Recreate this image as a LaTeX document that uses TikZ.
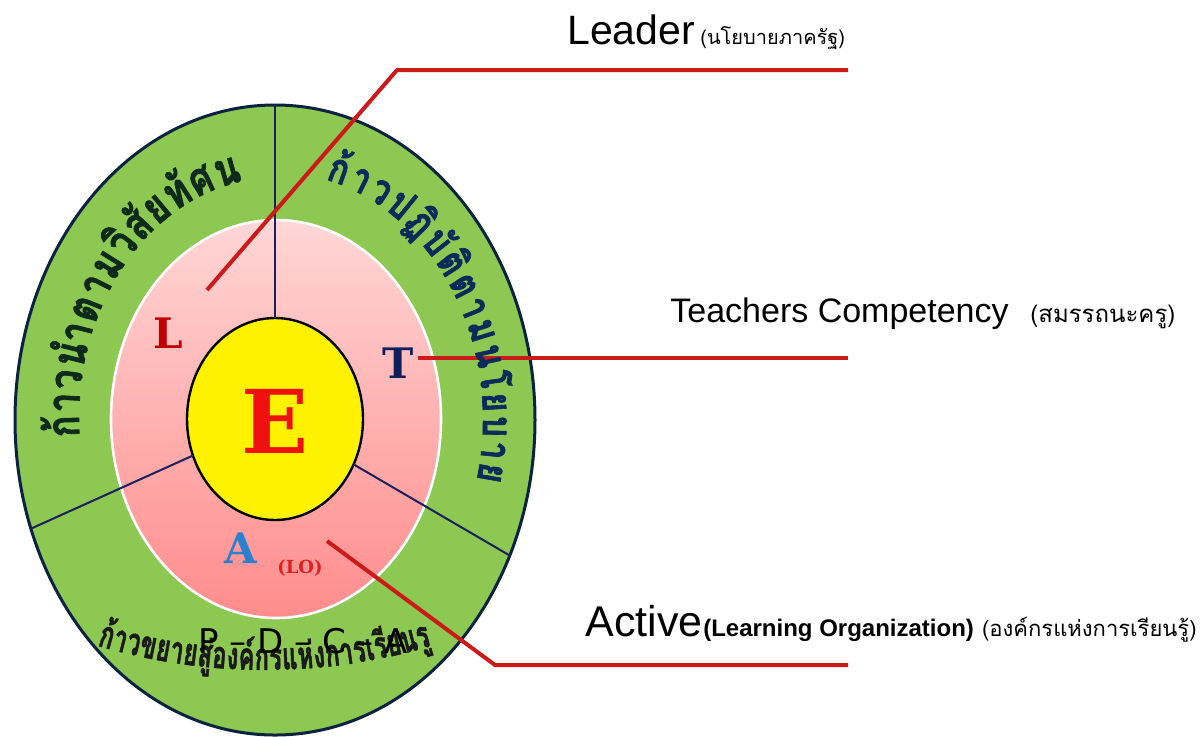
\documentclass[tikz,border=0pt]{standalone}
\usepackage{fontspec}
\setmainfont{Liberation Sans}
\newfontfamily\thaifont[Script=Thai]{Loma}
\newfontfamily\thairing[Script=Thai,FakeStretch=0.78,FakeBold=1.5]{Loma}
\newfontfamily\thaicond[Script=Thai,FakeStretch=0.62,FakeBold=1.2]{Loma}
\newfontfamily\dserif{DejaVu Serif}
\newfontfamily\dsans{DejaVu Sans}
\usetikzlibrary{shapes.geometric,decorations.text}

\definecolor{ringgreen}{HTML}{8CC852}
\definecolor{ringedge}{HTML}{0B2340}
\definecolor{divider}{HTML}{1B1F5C}
\definecolor{pinktop}{HTML}{FFD6D6}
\definecolor{pinkbot}{HTML}{FF8C8C}
\definecolor{conred}{HTML}{CC1A1A}
\definecolor{lred}{HTML}{C00000}
\definecolor{tnavy}{HTML}{0F1F5C}
\definecolor{ablue}{HTML}{2A7FD0}
\definecolor{ered}{HTML}{F01010}
\definecolor{lotext}{HTML}{E02020}
\definecolor{lefttext}{HTML}{0E2A1A}
\definecolor{righttext}{HTML}{0C2A5A}
\definecolor{bottext}{HTML}{1A1A1A}

\newcommand\leftringfont{\thairing\bfseries\fontsize{23}{23}\selectfont}
\newcommand\rightringfont{\thairing\bfseries\fontsize{21}{21}\selectfont}
\newcommand\botfont{\thaicond\bfseries\fontsize{19}{19}\selectfont}

\begin{document}
\begin{tikzpicture}[x=0.5pt,y=0.5pt,
  ring/.style={ellipse, inner sep=0pt, outer sep=0pt},
  divline/.style={draw=divider, line width=1pt},
  conn/.style={draw=conred, line width=2pt, line join=round},
  bigletter/.style={font=\dserif\bfseries\fontsize{21}{21}\selectfont, inner sep=0pt},
  label/.style={anchor=base west, inner sep=0pt},
  ringtext/.style={decorate, decoration={text along path, text align={fit to path}, text color=#1}}]
\useasboundingbox (0,0) rectangle (1200,-736);
\fill[white] (0,0) rectangle (1200,-736);

% rings
\node[ring, fill=ringgreen, draw=ringedge, line width=1.5pt, minimum width=260pt, minimum height=315pt] (outer) at (275,-420) {};
\node[ring, top color=pinktop, bottom color=pinkbot, draw=white, line width=1.3pt, minimum width=165pt, minimum height=199pt] (pink) at (276,-419) {};
\node[ring, fill=yellow, draw=black, line width=1.2pt, minimum width=88pt, minimum height=101pt] (core) at (275,-419) {};

% dividers
\draw[divline] (core.90) -- (outer.90);
\draw[divline] (core.204.5) -- (outer.204.5);
\draw[divline] (core.330.5) -- (outer.330.5);

% red connectors
\coordinate (lfoot) at (207,-290);
\coordinate (lknee) at (397,-70);
\coordinate (lend) at (848,-70);
\coordinate (tfoot) at (418,-358);
\coordinate (tend) at (848,-358);
\coordinate (afoot) at (327,-541);
\coordinate (aknee) at (495,-665);
\coordinate (aend) at (848,-665);
\draw[conn] (lfoot) -- (lknee) -- (lend);
\draw[conn] (tfoot) -- (tend);
\draw[conn] (afoot) -- (aknee) -- (aend);

% ring texts
\path[ringtext=lefttext, decoration={text={|\leftringfont|{ก้}{า}{ว}{นำ}{ต}{า}{ม}{วิ}{สั}{ย}{ทั}{ศ}{น์}}}]
  (275,-420) ++(184:196 and 242) arc[start angle=184, end angle=99, x radius=196, y radius=242];
\path[ringtext=righttext, decoration={text={|\rightringfont|{ก้}{า}{ว}{ป}{ฏิ}{บั}{ติ}{ต}{า}{ม}{น}{โ}{ย}{บ}{า}{ย}}}]
  (275,-420) ++(76:208 and 248) arc[start angle=76, end angle=-14, x radius=208, y radius=248];
\path[ringtext=bottext, decoration={text={|\botfont|{ก้}{า}{ว}{ข}{ย}{า}{ย}{สู่}{อ}{ง}{ค์}{ก}{ร}{แ}{ห่}{ง}{ก}{า}{ร}{เ}{รี}{ย}{น}{รู้}}}]
  (265,-79) ++(253.5:591) arc[start angle=253.5, end angle=286.5, radius=591];

% letters
\node[font=\dserif\bfseries\fontsize{44}{44}\selectfont, text=ered, inner sep=0pt] (E) at (275,-421) {E};
\node[bigletter, text=lred] (L) at (168,-333) {L};
\node[bigletter, text=tnavy] (T) at (398,-363) {T};
\node[bigletter, text=ablue] (A) at (241,-548) {A};
\node[font=\dserif\bfseries\fontsize{9}{9}\selectfont, text=lotext, inner sep=0pt] (LO) at (300,-568) {(LO)};
\node[anchor=base, font=\dsans\fontsize{17}{17}\selectfont, inner sep=0pt] (pdca) at (303,-653) {P – D – C – A};

% labels
\node[label, font=\fontsize{20.5}{20.5}\selectfont] (leader) at (567,-44) {Leader};
\node[label, font=\thaifont\fontsize{10}{10}\selectfont] (leaderth) at (700,-44) {(นโยบายภาครัฐ)};
\node[label, font=\fontsize{17}{17}\selectfont] (teach) at (670,-322) {Teachers Competency};
\node[label, font=\thaifont\fontsize{12}{12}\selectfont] (teachth) at (1030,-322) {(สมรรถนะครู)};
\node[label, font=\fontsize{21.5}{21.5}\selectfont] (active) at (585,-636) {Active};
\node[label, font=\bfseries\fontsize{12}{12}\selectfont] (lorg) at (active.base east) {(Learning Organization)};
\node[anchor=base east, inner sep=0pt, font=\thaifont\fontsize{11}{11}\selectfont] (activeth) at (1197,-636) {(องค์กรแห่งการเรียนรู้)};
\end{tikzpicture}
\end{document}
